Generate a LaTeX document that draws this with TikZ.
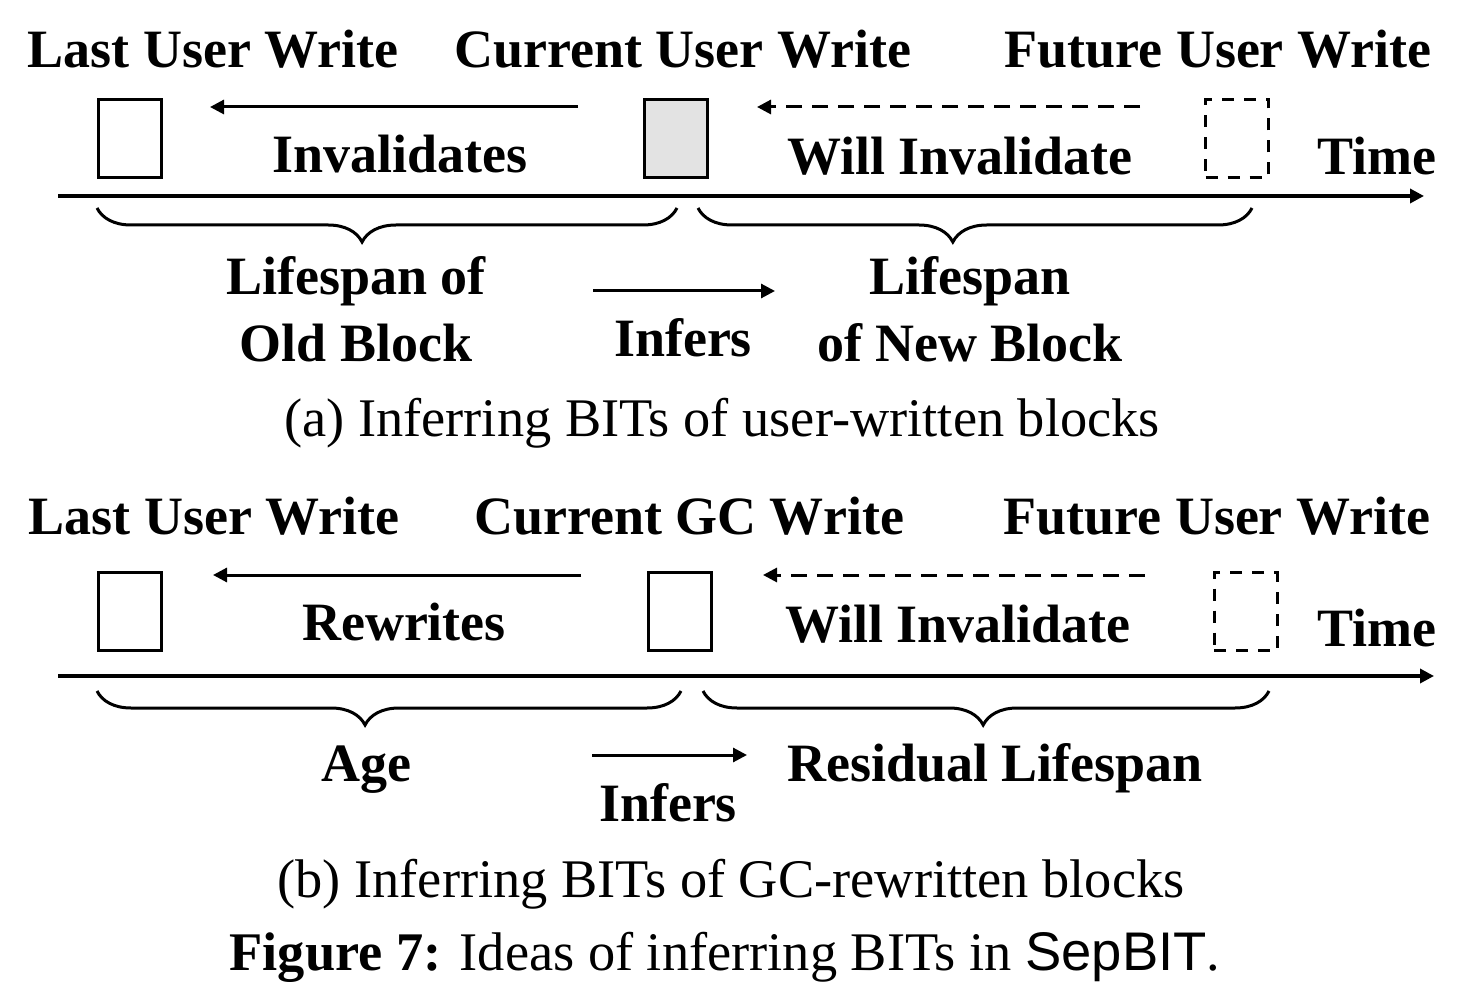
\documentclass[tikz,border=0pt]{standalone}
\usepackage{fontspec}
\setmainfont{Liberation Serif}
\newfontfamily\sepfont{Liberation Sans}
\usetikzlibrary{arrows.meta,decorations.pathreplacing}
\tikzstyle{heading}=[anchor=base,inner sep=0pt,align=center,font=\fontsize{27}{33.5}\selectfont\bfseries]
\tikzstyle{caption}=[anchor=base,inner sep=0pt,font=\fontsize{27.2}{33.5}\selectfont]
\tikzstyle{block}=[draw,line width=1.5pt,minimum width=31.5pt,minimum height=39pt,inner sep=0pt]
\tikzstyle{arrow}=[line width=1.5pt,-{Triangle[length=7pt,width=7pt]}]
\tikzstyle{brace}=[line width=1.5pt,decorate,decoration={brace,mirror,amplitude=17pt,aspect=#1}]

\begin{document}
\begin{tikzpicture}[x=0.5pt,y=-0.5pt]
      \useasboundingbox (0,0) rectangle (1470,1004);
      % (a) user-written blocks
      \node[heading] (lastA) at (213,68) {Last User Write};
      \node[heading] (curA) at (683,68) {Current User Write};
      \node[heading] (futA) at (1218,68) {Future User Write};
      \node[block] (oldA) at (130,138.5) {};
      \node[block,fill=gray!22] (newA) at (676,138.5) {};
      \node[block,dashed,dash pattern=on 6pt off 5pt] (nextA) at (1237,138.5) {};
      \coordinate (invA1) at (578,107);
      \coordinate (invA2) at (210,107);
      \coordinate (willA1) at (1140,107);
      \coordinate (willA2) at (757,107);
      \draw[arrow] (invA1) -- (invA2);
      \draw[arrow,dash pattern=on 8pt off 5pt] (willA1) -- (willA2);
      \node[heading] (invA) at (400,173) {Invalidates};
      \node[heading] (willA) at (960,175) {Will Invalidate};
      \node[heading] (timeA) at (1377,175) {Time};
      \coordinate (axA1) at (58,196);
      \coordinate (axA2) at (1424,196);
      \draw[arrow,line width=1.7pt] (axA1) -- (axA2);
      \coordinate (brA1) at (97,208);
      \coordinate (brA2) at (677,208);
      \coordinate (brA3) at (698,208);
      \coordinate (brA4) at (1252,208);
      \draw[brace=0.457] (brA1) -- (brA2);
      \draw[brace=0.46] (brA3) -- (brA4);
      \node[heading] (oldspanA) at (356,362) {Lifespan of\\Old Block};
      \node[heading] (newspanA) at (970,362) {Lifespan\\of New Block};
      \coordinate (infA1) at (593,291);
      \coordinate (infA2) at (775,291);
      \draw[arrow] (infA1) -- (infA2);
      \node[heading] (infA) at (683,357) {Infers};
      \node[caption] (capA) at (722,437) {(a) Inferring BITs of user-written blocks};
      % (b) GC-rewritten blocks
      \node[heading] (lastB) at (214,535) {Last User Write};
      \node[heading] (curB) at (689,535) {Current GC Write};
      \node[heading] (futB) at (1217,535) {Future User Write};
      \node[block] (oldB) at (130,611.5) {};
      \node[block] (newB) at (680,611.5) {};
      \node[block,dashed,dash pattern=on 6pt off 5pt] (nextB) at (1245.5,611.5) {};
      \coordinate (rewB1) at (581,575);
      \coordinate (rewB2) at (213,575);
      \coordinate (willB1) at (1145,575);
      \coordinate (willB2) at (763,575);
      \draw[arrow] (rewB1) -- (rewB2);
      \draw[arrow,dash pattern=on 8pt off 5pt] (willB1) -- (willB2);
      \node[heading] (rewB) at (404,640) {Rewrites};
      \node[heading] (willB) at (958,642) {Will Invalidate};
      \node[heading] (timeB) at (1377,646) {Time};
      \coordinate (axB1) at (58,676);
      \coordinate (axB2) at (1434,676);
      \draw[arrow,line width=1.7pt] (axB1) -- (axB2);
      \coordinate (brB1) at (97,691);
      \coordinate (brB2) at (681,691);
      \coordinate (brB3) at (703,691);
      \coordinate (brB4) at (1269,691);
      \draw[brace=0.459] (brB1) -- (brB2);
      \draw[brace=0.495] (brB3) -- (brB4);
      \node[heading] (ageB) at (366,781) {Age};
      \node[heading] (resB) at (995,781) {Residual Lifespan};
      \coordinate (infB1) at (592,755);
      \coordinate (infB2) at (747,755);
      \draw[arrow] (infB1) -- (infB2);
      \node[heading] (infB) at (668,821) {Infers};
      \node[caption] (capB) at (731,897) {(b) Inferring BITs of GC-rewritten blocks};
      \node[caption] (figcap) at (725,970) {\textbf{Figure 7:} Ideas of inferring BITs in {\sepfont SepBIT}.};
    \end{tikzpicture}
\end{document}
